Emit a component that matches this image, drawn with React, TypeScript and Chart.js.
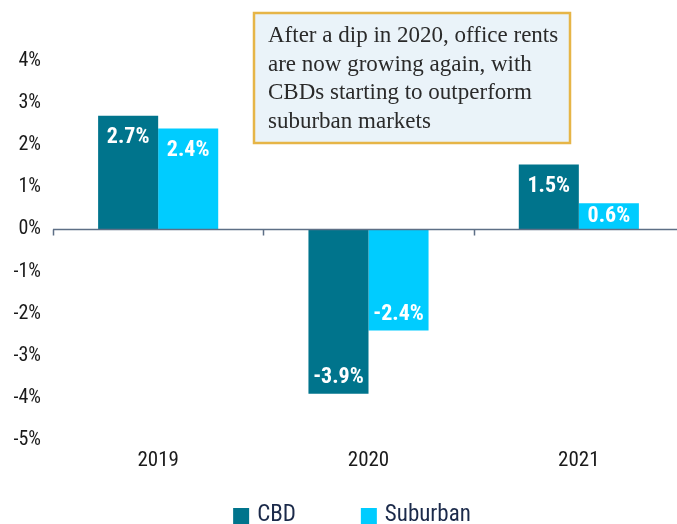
import React, { useEffect, useRef } from "react";
import { Chart, registerables } from "chart.js";

Chart.register(...registerables);

const categories = ["2019", "2020", "2021"];
const cbdValues = [2.7, -3.9, 1.54];
const suburbanValues = [2.4, -2.4, 0.62];
const seriesNames = ["CBD", "Suburban"];
const yTicks = [4, 3, 2, 1, 0, -1, -2, -3, -4, -5];
const noteLines = [
  "After a dip in 2020, office rents",
  "are now growing again, with",
  "CBDs starting to outperform",
  "suburban markets",
];

const NARROW = '"Liberation Sans Narrow", "Arial Narrow", "Roboto Condensed", sans-serif';
const CBD_COLOR = "#00748C";
const SUB_COLOR = "#00CCFF";

const overlayPlugin = {
  id: "overlay",
  afterDatasetsDraw(chart: any) {
    const { ctx, chartArea, scales } = chart;
    const ys = scales.y;
    ctx.save();
    // zero axis line with boundary ticks
    const y0 = ys.getPixelForValue(0);
    ctx.strokeStyle = "#5E6F86";
    ctx.lineWidth = 1.5;
    ctx.beginPath();
    ctx.moveTo(chartArea.left, y0);
    ctx.lineTo(chartArea.right, y0);
    const n = categories.length;
    const step = (chartArea.right - chartArea.left) / n;
    for (let i = 0; i <= n; i++) {
      const x = Math.round(chartArea.left + i * step) + 0.5;
      ctx.moveTo(x, y0);
      ctx.lineTo(x, y0 + 6);
    }
    ctx.stroke();

    // data labels
    ctx.fillStyle = "#FFFFFF";
    ctx.font = `bold 22px ${NARROW}`;
    ctx.textAlign = "center";
    ctx.textBaseline = "middle";
    chart.data.datasets.forEach((ds: any, di: number) => {
      const meta = chart.getDatasetMeta(di);
      meta.data.forEach((el: any, i: number) => {
        const v = ds.data[i];
        const mid = (el.y + el.base) / 2;
        const ty = v >= 0 ? Math.min(el.y + 22, mid) : Math.max(el.y - 16, mid);
        ctx.fillText(v.toFixed(1) + "%", el.x, ty);
      });
    });

    // legend
    ctx.font = `23px ${NARROW}`;
    ctx.textAlign = "left";
    const boxSize = 16;
    const gap = 8;
    const itemGap = 65;
    const widths = chart.data.datasets.map(
      (ds: any) => boxSize + gap + ctx.measureText(ds.label).width
    );
    const total = widths.reduce((a: number, b: number) => a + b, 0) + itemGap * (widths.length - 1);
    let lx = chart.width / 2 + 10 - total / 2;
    const ly = 515;
    chart.data.datasets.forEach((ds: any, di: number) => {
      ctx.fillStyle = ds.backgroundColor;
      ctx.fillRect(lx, ly - 7, boxSize, boxSize);
      ctx.fillStyle = "#1B2A4A";
      ctx.fillText(ds.label, lx + boxSize + gap, ly);
      lx += widths[di] + itemGap;
    });

    // annotation box
    const bx = 254, by = 13, bw = 316, bh = 130;
    ctx.fillStyle = "#EAF3F9";
    ctx.fillRect(bx, by, bw, bh);
    ctx.strokeStyle = "#E6B547";
    ctx.lineWidth = 2.5;
    ctx.strokeRect(bx, by, bw, bh);
    ctx.fillStyle = "#2A2A2A";
    ctx.font = '23px "Liberation Serif", "DejaVu Serif", serif';
    ctx.textBaseline = "middle";
    noteLines.forEach((line, i) => {
      ctx.fillText(line, 268, 36 + i * 28.5);
    });
    ctx.restore();
  },
};

export default function App() {
  const ref = useRef<HTMLCanvasElement>(null);
  useEffect(() => {
    document.body.style.margin = "0";
    const canvas = ref.current!;
    const chart = new Chart(canvas, {
      type: "bar",
      data: {
        labels: categories,
        datasets: [
          {
            label: seriesNames[0],
            data: cbdValues,
            backgroundColor: CBD_COLOR,
            categoryPercentage: 0.571,
            barPercentage: 1,
          },
          {
            label: seriesNames[1],
            data: suburbanValues,
            backgroundColor: SUB_COLOR,
            categoryPercentage: 0.571,
            barPercentage: 1,
          },
        ],
      },
      options: {
        responsive: false,
        animation: false,
        devicePixelRatio: 1,
        layout: { padding: { top: 61, right: 0, bottom: 54, left: 0 } },
        plugins: {
          legend: { display: false },
          tooltip: { enabled: false },
        },
        scales: {
          x: {
            grid: { display: false, drawTicks: false },
            border: { display: false },
            ticks: {
              padding: 8,
              color: "#1A1A1A",
              font: { family: NARROW, size: 21 },
            },
            afterFit: (s: any) => {
              s.height = 30;
            },
          },
          y: {
            min: yTicks[yTicks.length - 1],
            max: yTicks[0],
            afterBuildTicks: (s: any) => {
              s.ticks = yTicks.map((v) => ({ value: v }));
            },
            grid: { display: false, drawTicks: false },
            border: { display: false },
            ticks: {
              padding: 12,
              color: "#1A1A1A",
              font: { family: NARROW, size: 20 },
              callback: (v: any) => v + "%",
            },
            afterFit: (s: any) => {
              s.width = 53;
            },
          },
        },
      },
      plugins: [overlayPlugin],
    });
    return () => chart.destroy();
  }, []);
  return (
    <div style={{ width: 677, height: 524, overflow: "hidden", position: "relative" }}>
      <canvas ref={ref} width={684} height={524} style={{ display: "block" }} />
    </div>
  );
}
